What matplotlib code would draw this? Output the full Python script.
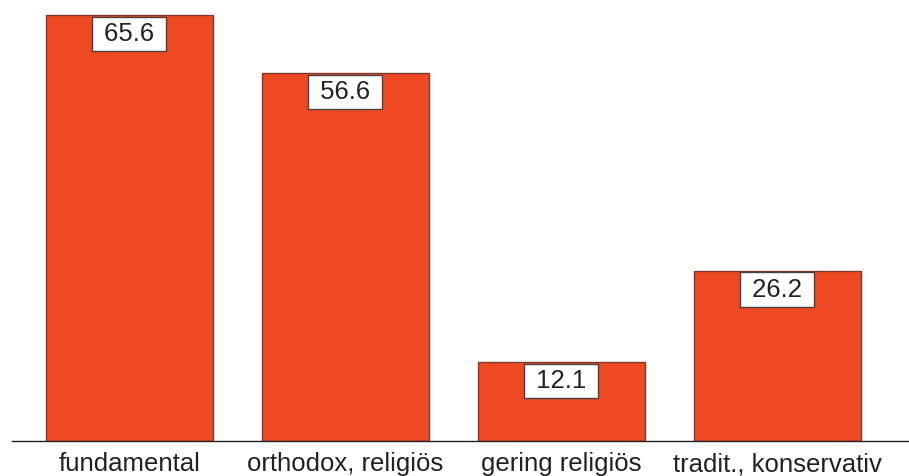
import matplotlib.pyplot as plt

# data
categories = ['fundamental', 'orthodox, religiös', 'gering religiös', 'tradit., konservativ']
values = [65.6, 56.6, 12.1, 26.2]

W, H = 909, 476
fig = plt.figure(figsize=(W / 100, H / 100), dpi=100)
plt.rcParams['font.family'] = ['Liberation Sans', 'DejaVu Sans']

# axes: baseline at y=441px, left end of axis line at x=12px
ax = fig.add_axes([12 / W, (H - 441) / H, 1 - 12 / W, 441 / H])

x = range(len(values))
ax.bar(x, values, width=0.773, color='#EF4923', edgecolor='#7a3b2c', linewidth=1)

ax.set_xlim(-0.542, 3.611)
ax.set_ylim(0, 441 / 6.494)

for i, v in enumerate(values):
    ax.annotate(' %.1f ' % v, (i, v), xytext=(0, -4.8), textcoords='offset points',
                ha='center', va='top', fontsize=18.5, color='#222222',
                bbox=dict(boxstyle='square,pad=0.2', fc='white', ec='#444444', lw=1))

ax.set_xticks(list(x))
ax.set_xticklabels(categories, fontsize=18.5, color='#222222')
ax.tick_params(axis='x', length=0, pad=8)
ax.set_yticks([])
for s in ['top', 'right', 'left']:
    ax.spines[s].set_visible(False)
ax.spines['bottom'].set_color('#222222')
ax.spines['bottom'].set_linewidth(1)

fig.savefig('out.png', dpi=100)
